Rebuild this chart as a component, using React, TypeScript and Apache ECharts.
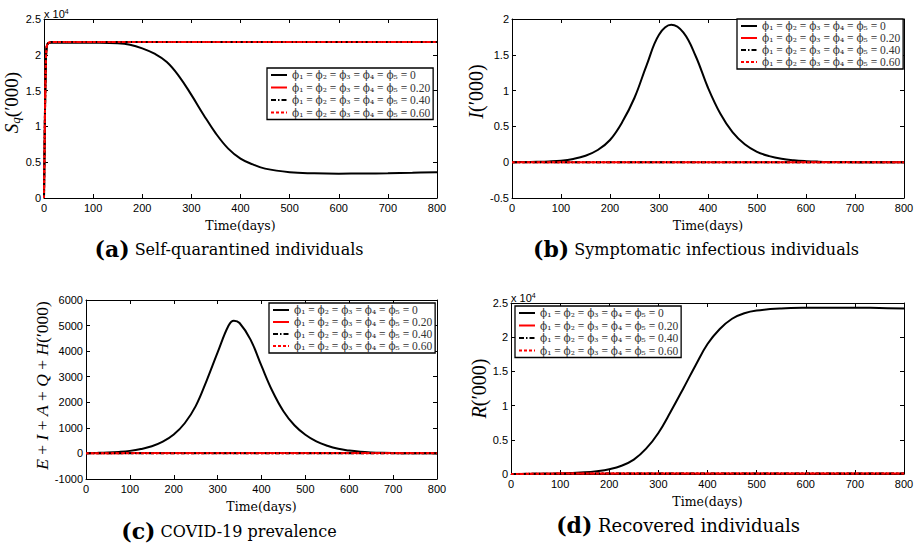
import React, { useEffect, useRef } from 'react';
import * as echarts from 'echarts';

// ---------- legend ----------
const legendNames = ['phi0', 'phi20', 'phi40', 'phi60'];
const phiLabels = ['0', '0.20', '0.40', '0.60'];

// ---------- x axis ----------
const xMin = 0;
const xMax = 800;
const xStep = 100;

// ---------- (a) Self-quarantined ----------
const daysA = [0, 1, 2, 3, 4, 5, 6, 8, 10, 15, 25, 50, 100, 150, 175, 200, 225, 250, 275, 300, 325, 350, 375, 400, 425, 450, 500, 550, 600, 650, 700, 750, 800];
const sqPhi0 = [0, 6000, 12000, 16500, 19500, 20800, 21300, 21550, 21650, 21700, 21700, 21700, 21680, 21600, 21400, 20900, 20150, 19000, 17000, 14400, 11600, 9000, 6900, 5500, 4700, 4100, 3600, 3450, 3400, 3420, 3460, 3520, 3600];
const daysRiseA = [0, 1, 2, 3, 4, 5, 6, 8, 10, 15, 25, 50, 100, 200, 300, 400, 500, 600, 700, 800];
const sqPhi20 = [0, 6000, 12000, 16500, 19500, 20800, 21300, 21600, 21700, 21800, 21800, 21800, 21800, 21800, 21800, 21800, 21800, 21800, 21800, 21800];
const sqPhi40 = [0, 6000, 12000, 16500, 19500, 20800, 21300, 21600, 21700, 21800, 21800, 21800, 21800, 21800, 21800, 21800, 21800, 21800, 21800, 21800];
const sqPhi60 = [0, 6000, 12000, 16500, 19500, 20800, 21300, 21600, 21700, 21800, 21800, 21800, 21800, 21800, 21800, 21800, 21800, 21800, 21800, 21800];

// ---------- (b) Symptomatic infectious ----------
const daysB = [0, 25, 50, 75, 100, 125, 150, 175, 200, 225, 250, 275, 300, 325, 350, 375, 400, 425, 450, 475, 500, 525, 550, 575, 600, 625, 650, 675, 700, 725, 750, 775, 800];
const iPhi0 = [0, 0.002, 0.005, 0.01, 0.02, 0.045, 0.09, 0.17, 0.31, 0.56, 0.9, 1.36, 1.78, 1.92, 1.81, 1.48, 1.04, 0.68, 0.42, 0.25, 0.145, 0.085, 0.048, 0.027, 0.015, 0.008, 0.004, 0.002, 0.001, 0.001, 0, 0, 0];
const daysFlat = [0, 100, 200, 300, 400, 500, 600, 700, 800];
const iPhi20 = [0, 0.001, 0.001, 0.001, 0.001, 0.001, 0.001, 0.001, 0.001];
const iPhi40 = [0, 0.001, 0.001, 0.001, 0.001, 0.001, 0.001, 0.001, 0.001];
const iPhi60 = [0, 0.001, 0.001, 0.001, 0.001, 0.001, 0.001, 0.001, 0.001];

// ---------- (c) COVID-19 prevalence ----------
const daysC = [0, 25, 50, 75, 100, 125, 150, 175, 200, 225, 250, 275, 300, 325, 337, 350, 375, 400, 425, 450, 475, 500, 525, 550, 575, 600, 625, 650, 675, 700, 725, 750, 775, 800];
const prevPhi0 = [10, 20, 35, 60, 100, 170, 280, 460, 740, 1180, 1850, 2850, 3950, 5000, 5190, 5100, 4450, 3420, 2430, 1650, 1100, 730, 470, 300, 180, 110, 65, 38, 22, 13, 8, 5, 3, 2];
const prevPhi20 = [10, 12, 12, 12, 12, 12, 12, 12, 12];
const prevPhi40 = [10, 10, 10, 10, 10, 10, 10, 10, 10];
const prevPhi60 = [10, 8, 8, 8, 8, 8, 8, 8, 8];

// ---------- (d) Recovered ----------
const daysD = [0, 50, 100, 150, 175, 200, 225, 250, 275, 300, 325, 350, 375, 400, 425, 450, 475, 500, 550, 600, 650, 700, 750, 800];
const rPhi0 = [0, 20, 80, 250, 420, 700, 1200, 2100, 3700, 6000, 9100, 12400, 15800, 19000, 21200, 22700, 23500, 23900, 24200, 24300, 24320, 24320, 24260, 24200];
const rPhi20 = [0, 60, 80, 80, 80, 80, 80, 80, 80];
const rPhi40 = [0, 50, 60, 60, 60, 60, 60, 60, 60];
const rPhi60 = [0, 60, 80, 80, 80, 80, 80, 80, 80];

// ---------- styles ----------
const SERIF = "'Liberation Serif', 'DejaVu Serif', serif";
const DSERIF = "'DejaVu Serif', serif";
const SANS = "'Liberation Sans', Arial, sans-serif";

const lineStyles: any[] = [
  { color: '#000000', type: 'solid' },
  { color: '#ff0000', type: 'solid' },
  { color: '#000000', type: [5, 2, 1.5, 2] },
  { color: '#ff0000', type: [3, 2] },
];

const grids = [
  { left: 44, top: 19, width: 393, height: 179 },
  { left: 512, top: 19, width: 392, height: 179 },
  { left: 86, top: 300, width: 351, height: 179 },
  { left: 511, top: 303, width: 393, height: 171 },
];

const yRanges = [
  { min: 0, max: 25000, interval: 5000, fmt: (v: number) => String(v / 10000) },
  { min: -0.5, max: 2, interval: 0.5, fmt: (v: number) => String(v) },
  { min: -1000, max: 6000, interval: 1000, fmt: (v: number) => String(v) },
  { min: 0, max: 25000, interval: 5000, fmt: (v: number) => String(v / 10000) },
];

const yNames = [
  { text: '{i|S}{q|q}{n|(′000)}', size: 19, gap: 19, shift: 12 },
  { text: '{i|I}{n|(′000)}', size: 20, gap: 24, shift: 34 },
  { text: '{i|E}{n| + }{i|I}{n| + }{i|A}{n| + }{i|Q}{n| + }{i|H}{n|(′000)}', size: 17.5, gap: 31, shift: 8 },
  { text: '{i|R}{n|(′000)}', size: 20, gap: 20, shift: 0 },
];

const legendPos = [
  { left: 267, top: 68, lh: 11.5, gap: 0.5 },
  { left: 737, top: 19, lh: 10, gap: 0 },
  { left: 269, top: 303, lh: 10, gap: 0 },
  { left: 515, top: 306, lh: 11.5, gap: 0.5 },
];

const captions = [
  { x: 229, y: 249, label: '(a)', text: 'Self-quarantined individuals', size: 16 },
  { x: 696, y: 249, label: '(b)', text: 'Symptomatic infectious individuals', size: 16 },
  { x: 229, y: 531, label: '(c)', text: 'COVID-19 prevalence', size: 16 },
  { x: 678, y: 525, label: '(d)', text: 'Recovered individuals', size: 18 },
];

const phiText = (val: string) =>
  `{p|ϕ₁}{e| = }{p|ϕ₂}{e| = }{p|ϕ₃}{e| = }{p|ϕ₄}{e| = }{p|ϕ₅}{e| = ${val}}`;

function buildOption() {
  const xAxis: any[] = [];
  const yAxis: any[] = [];
  const tick = { show: true, inside: true, length: 4, lineStyle: { color: '#000', width: 1 } };
  const axisLine = { show: true, onZero: false, lineStyle: { color: '#000', width: 1 } };

  grids.forEach((_, g) => {
    xAxis.push({
      type: 'value', gridIndex: g, position: 'bottom', min: xMin, max: xMax, interval: xStep,
      axisLine, axisTick: tick, splitLine: { show: false },
      axisLabel: { color: '#000', fontFamily: SANS, fontSize: 11, margin: 4, showMinLabel: true, showMaxLabel: true },
      name: 'Time(days)', nameLocation: 'middle', nameGap: 21,
      nameTextStyle: { color: '#000', fontFamily: DSERIF, fontSize: 12.5 },
    });
    xAxis.push({
      type: 'value', gridIndex: g, position: 'top', min: xMin, max: xMax, interval: xStep,
      axisLine, axisTick: tick, splitLine: { show: false }, axisLabel: { show: false },
    });
    const yr = yRanges[g];
    const yn = yNames[g];
    yAxis.push({
      type: 'value', gridIndex: g, position: 'left', min: yr.min, max: yr.max, interval: yr.interval,
      axisLine, axisTick: tick, splitLine: { show: false },
      axisLabel: { color: '#000', fontFamily: SANS, fontSize: 11, margin: 3, formatter: yr.fmt, showMinLabel: true, showMaxLabel: true },
      name: yn.text, nameLocation: 'middle', nameGap: yn.gap, nameRotate: 90,
      nameTextStyle: {
        color: '#000', fontFamily: SERIF, fontSize: yn.size, padding: [0, 0, 0, yn.shift],
        rich: {
          i: { fontFamily: SERIF, fontStyle: 'italic', fontSize: yn.size, lineHeight: yn.size + 2, color: '#000' },
          n: { fontFamily: SERIF, fontSize: yn.size, lineHeight: yn.size + 2, color: '#000' },
          q: { fontFamily: SERIF, fontStyle: 'italic', fontSize: 13, lineHeight: 6, verticalAlign: 'bottom', color: '#000' },
        },
      },
    });
    yAxis.push({
      type: 'value', gridIndex: g, position: 'right', min: yr.min, max: yr.max, interval: yr.interval,
      axisLine, axisTick: tick, splitLine: { show: false }, axisLabel: { show: false },
    });
  });

  const line = (g: number, k: number, xs: number[], ys: number[]) => ({
    type: 'line', name: legendNames[k], xAxisIndex: g * 2, yAxisIndex: g * 2,
    data: xs.map((x, i) => [x, ys[i]]), symbol: 'none', showSymbol: false, smooth: 0.4,
    lineStyle: { color: lineStyles[k].color, type: lineStyles[k].type, width: 2 },
    itemStyle: { color: lineStyles[k].color }, z: 2 + k,
  });

  const series = [
    line(0, 0, daysA, sqPhi0), line(0, 1, daysRiseA, sqPhi20), line(0, 2, daysRiseA, sqPhi40), line(0, 3, daysRiseA, sqPhi60),
    line(1, 0, daysB, iPhi0), line(1, 1, daysFlat, iPhi20), line(1, 2, daysFlat, iPhi40), line(1, 3, daysFlat, iPhi60),
    line(2, 0, daysC, prevPhi0), line(2, 1, daysFlat, prevPhi20), line(2, 2, daysFlat, prevPhi40), line(2, 3, daysFlat, prevPhi60),
    line(3, 0, daysD, rPhi0), line(3, 1, daysFlat, rPhi20), line(3, 2, daysFlat, rPhi40), line(3, 3, daysFlat, rPhi60),
  ];

  const legend = legendPos.map((lp) => ({
    show: true, orient: 'vertical', left: lp.left, top: lp.top, itemGap: lp.gap,
    itemWidth: 16, itemHeight: 8, padding: [1, 3, 1, 3], selectedMode: false,
    borderColor: '#000', borderWidth: 1.3, backgroundColor: '#fff',
    data: legendNames,
    itemStyle: { opacity: 0, borderWidth: 0 },
    formatter: (name: string) => phiText(phiLabels[legendNames.indexOf(name)]),
    textStyle: {
      color: '#333', fontFamily: SERIF, fontSize: 11, lineHeight: lp.lh,
      rich: {
        p: { fontFamily: DSERIF, fontSize: 10.5, lineHeight: lp.lh, color: '#333' },
        e: { fontFamily: SERIF, fontSize: 11.5, lineHeight: lp.lh, color: '#333' },
      },
    },
  }));

  const graphic: any[] = [];
  captions.forEach((c) => {
    graphic.push({
      type: 'text', x: c.x, y: c.y, silent: true,
      style: {
        text: `{b|${c.label}}{t| ${c.text}}`,
        align: 'center', verticalAlign: 'middle', textAlign: 'center', textVerticalAlign: 'middle',
        rich: {
          b: { fontFamily: DSERIF, fontWeight: 'bold', fontSize: 22, fill: '#000' },
          t: { fontFamily: DSERIF, fontSize: c.size, fill: '#000' },
        },
      },
    });
  });
  [[44, 14], [511, 298]].forEach(([x, y]) => {
    graphic.push({
      type: 'text', x, y, silent: true,
      style: {
        text: '{a|x 10}{s|4}',
        align: 'left', verticalAlign: 'middle', textAlign: 'left', textVerticalAlign: 'middle',
        rich: {
          a: { fontFamily: SANS, fontSize: 11, lineHeight: 12, fill: '#000' },
          s: { fontFamily: SANS, fontSize: 7, lineHeight: 4, verticalAlign: 'top', fill: '#000' },
        },
      },
    });
  });

  return {
    animation: false,
    backgroundColor: '#fff',
    grid: grids.map((g) => ({ ...g, containLabel: false, outerBoundsMode: 'none' })),
    xAxis, yAxis, series, legend, graphic,
  };
}

export default function App() {
  const ref = useRef<HTMLDivElement>(null);
  useEffect(() => {
    const chart = echarts.init(ref.current!, null, { renderer: 'svg' });
    chart.setOption(buildOption() as any);
    return () => chart.dispose();
  }, []);
  return (
    <div
      ref={ref}
      style={{ position: 'absolute', left: 0, top: 0, width: 916, height: 545, background: '#fff' }}
    />
  );
}
